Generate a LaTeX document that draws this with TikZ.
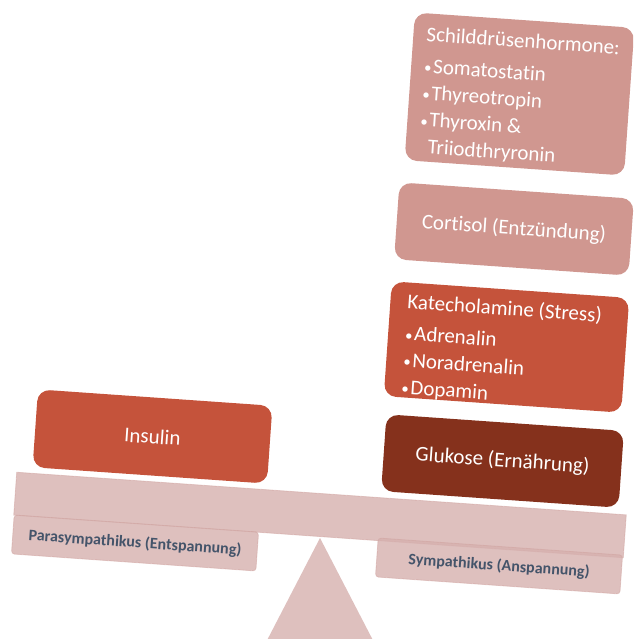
\documentclass[tikz,border=0pt]{standalone}
\usepackage{fontspec}
\setmainfont{Carlito}[Ligatures=NoCommon]
\definecolor{redbox}{HTML}{C5533B}
\definecolor{darkbox}{HTML}{85311C}
\definecolor{palebox}{HTML}{D09790}
\definecolor{beamcol}{HTML}{D6B0AE}
\definecolor{beamedge}{HTML}{CFA29E}
\definecolor{labeltext}{HTML}{44546A}
\newcommand{\blt}{{\fontsize{15}{15}\selectfont •}\kern1.5pt}
\begin{document}
\begin{tikzpicture}[x=1pt,y=-1pt,
  hbox/.style={rounded corners=12pt, inner sep=0pt, text=white,
    font=\fontsize{21}{27}\selectfont},
  boxtext/.style={inner sep=0pt, text=white, align=left,
    font=\fontsize{21}{26.8}\selectfont},
  beampart/.style={fill=beamcol, fill opacity=0.8, draw=beamedge, draw opacity=0.5,
    line width=0.8pt, inner sep=0pt},
  labelbox/.style={beampart, rounded corners=3pt, text=labeltext, text opacity=1,
    font=\fontsize{16}{18}\selectfont\bfseries},
]
\useasboundingbox (0,0) rectangle (633,639);
\clip (0,0) rectangle (633,639);

% fulcrum
\fill[beamcol, opacity=0.8] (320,538) coordinate (apex) -- (262,650) -- (378,650) -- cycle;

% beam
\begin{scope}[shift={(320,515)}, rotate=-4, transform shape]
  \node[beampart, minimum width=611, minimum height=43] (beam) at (0,0) {};
\end{scope}

% labels under the beam
\begin{scope}[shift={(135,543)}, rotate=-4, transform shape]
  \node[labelbox, minimum width=245, minimum height=39] (para) at (0,0) {Parasympathikus (Entspannung)};
\end{scope}
\begin{scope}[shift={(499,566)}, rotate=-4, transform shape]
  \node[labelbox, minimum width=245, minimum height=39] (sym) at (0,0) {Sympathikus (Anspannung)};
\end{scope}

% Insulin
\begin{scope}[shift={(152.5,436.5)}, rotate=-4, transform shape]
  \node[hbox, fill=redbox, minimum width=235, minimum height=78] (insulin) at (0,0) {Insulin};
\end{scope}

% Glukose
\begin{scope}[shift={(502.5,461)}, rotate=-4, transform shape]
  \node[hbox, fill=darkbox, minimum width=238, minimum height=77] (glukose) at (0,0) {Glukose (Ernährung)};
\end{scope}

% Katecholamine
\begin{scope}[shift={(506.5,347)}, rotate=-4, transform shape]
  \node[hbox, fill=redbox, minimum width=238, minimum height=115] (kate) at (0,0) {};
  \node[boxtext, anchor=north west] (katetext) at (-102,-47)
    {Katecholamine (Stress)\\[5pt]
     \blt Adrenalin\\
     \blt Noradrenalin\\
     \blt Dopamin};
\end{scope}

% Cortisol
\begin{scope}[shift={(514,229)}, rotate=-4, transform shape]
  \node[hbox, fill=palebox, minimum width=235, minimum height=77] (cortisol) at (0,0) {Cortisol (Entzündung)};
\end{scope}

% Schilddruesenhormone
\begin{scope}[shift={(519.5,94)}, rotate=-4, transform shape]
  \node[hbox, fill=palebox, minimum width=220, minimum height=148] (schild) at (0,0) {};
  \node[boxtext, anchor=north west] (schildtext) at (-97,-61)
    {Schilddrüsenhormone:\\[5pt]
     \blt Somatostatin\\
     \blt Thyreotropin\\
     \blt Thyroxin \&\\
     \hphantom{\blt}Triiodthryronin};
\end{scope}
\end{tikzpicture}
\end{document}
